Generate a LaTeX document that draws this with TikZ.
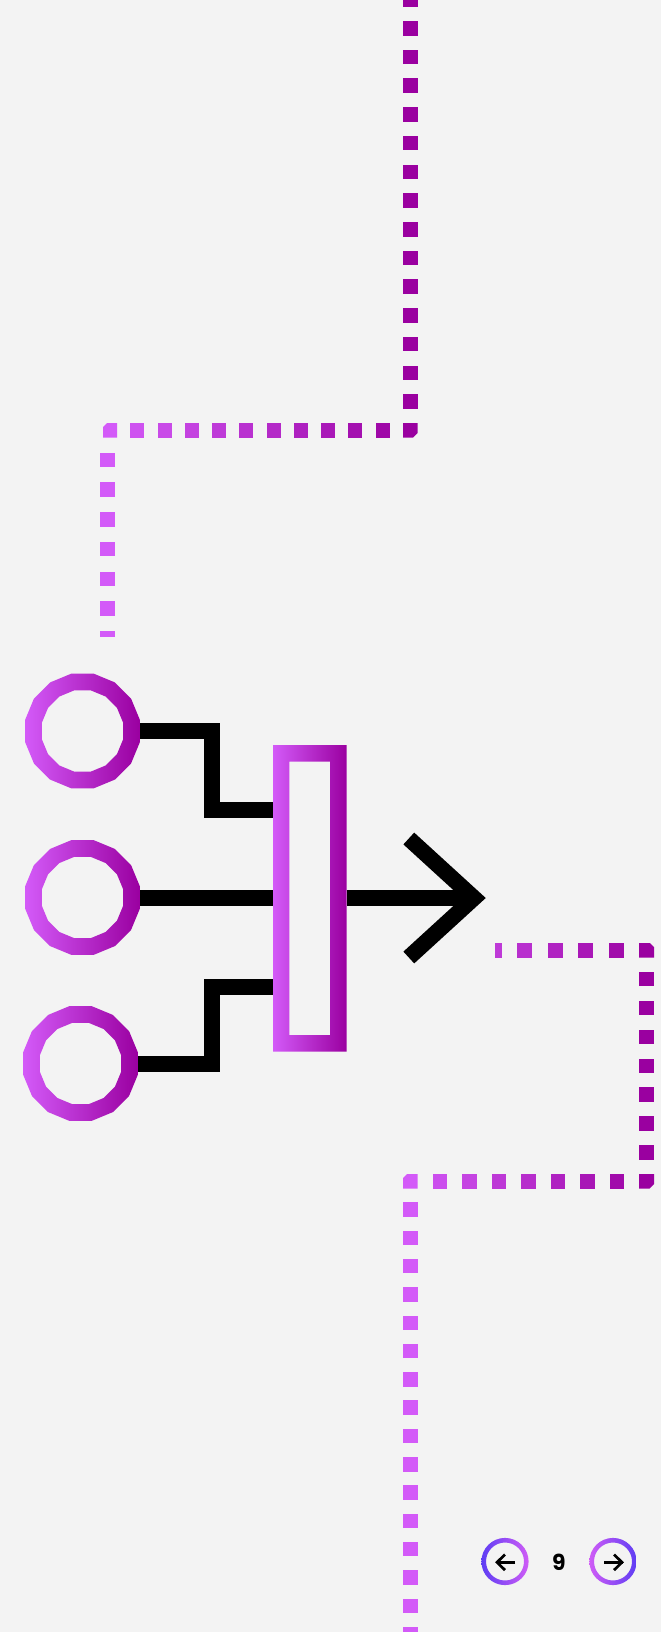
\documentclass[tikz,border=0pt]{standalone}
\usepackage{fontspec}
\usetikzlibrary{calc}
\setmainfont{Poppins}
\definecolor{bg}{HTML}{F3F3F3}
\definecolor{lt}{RGB}{211,90,248}
\definecolor{dk}{RGB}{154,0,160}
\definecolor{navblue}{HTML}{5E3DF4}
\definecolor{navpink}{HTML}{CF5CF6}
\tikzset{
  wire/.style={line width=16pt, black, line join=miter},
  navarrow/.style={line width=2.7pt, black, line join=miter},
  ringshade/.style={even odd rule, left color=lt, right color=dk},
}
\begin{document}
\begin{tikzpicture}[x=1pt,y=-1pt]
\useasboundingbox (0,0) rectangle (661,1632);
\clip (0,0) rectangle (661,1632);
\fill[bg] (0,0) rectangle (661,1632);

% ---------- dotted route, upper part ----------
% A: top vertical (dark)
\foreach \k in {1,...,15} { \fill[dk] (403,{423-28.71*\k}) rectangle +(14.5,14.5); }
% top-right corner
\fill[dk] (403,423) -- (417.5,423) -- (417.5,433) -- (413,437.5) -- (403,437.5) -- cycle;
% B: top horizontal (gradient)
\foreach \i in {1,...,10} {
  \pgfmathtruncatemacro\p{round(100*\i/11)}
  \fill[dk!\p!lt] ({103+27.27*\i},423) rectangle +(14,14.5);
}
% top-left corner
\fill[lt] (107,423) -- (117,423) -- (117,437.5) -- (103,437.5) -- (103,427) -- cycle;
% C: left vertical (light)
\foreach \k in {1,...,6} { \fill[lt] (100,{423+29.7*\k}) rectangle +(14.5,14.5); }
\fill[lt] (100,631) rectangle (114.5,637);

% ---------- dotted route, lower part ----------
% D: short horizontal at y=950
\fill[dk!37!lt] (495,943) rectangle (502,957.5);
\foreach \k in {1,...,4} {
  \pgfmathsetmacro\xo{639-30.5*\k}
  \pgfmathtruncatemacro\p{round((\xo+7-410)/237*100)}
  \fill[dk!\p!lt] (\xo,943) rectangle +(15,14.5);
}
\fill[dk] (639,943) -- (650,943) -- (654,947) -- (654,957.5) -- (639,957.5) -- cycle;
% E: right vertical (dark)
\foreach \k in {1,...,7} { \fill[dk] (639,{943+28.875*\k}) rectangle +(15,14.5); }
\fill[dk] (639,1174) -- (654,1174) -- (654,1184) -- (649.5,1188.5) -- (639,1188.5) -- cycle;
% F: lower horizontal (gradient)
\foreach \k in {1,...,7} {
  \pgfmathtruncatemacro\p{round(100*\k/8)}
  \fill[dk!\p!lt] ({403+29.5*\k},1174) rectangle +(14.5,14.5);
}
\fill[lt] (407,1174) -- (417.5,1174) -- (417.5,1188.5) -- (403,1188.5) -- (403,1178) -- cycle;
% G: bottom vertical (light)
\foreach \k in {1,...,16} { \fill[lt] (403,{1174+28.3*\k}) rectangle +(14.5,14.5); }

% ---------- input rings ----------
\coordinate (c1) at (82.5,731);
\coordinate (c2) at (82.5,897.5);
\coordinate (c3) at (80.5,1063.5);
\foreach \cx/\cy in {82.5/731, 82.5/897.5, 80.5/1063.5} {
  \shade[ringshade]
    plot[samples=17,domain=0:16,variable=\t] ({\cx+58.4*cos(11.25+22.5*\t)},{\cy+58.4*sin(11.25+22.5*\t)}) -- cycle
    plot[samples=17,domain=0:16,variable=\t] ({\cx+41.5*cos(11.25+22.5*\t)},{\cy+41.5*sin(11.25+22.5*\t)}) -- cycle;
}

% ---------- bar ----------
\coordinate (barNW) at (273,745);
\coordinate (barSE) at (346.7,1051.7);
\shade[ringshade] (barNW) rectangle (barSE) (289.3,761.7) rectangle (330,1035);

% ---------- wires ----------
\coordinate (c1e) at (140,731);
\coordinate (j1a) at (211.5,731);
\coordinate (j1b) at (211.5,810);
\coordinate (b1) at (273,810);
\coordinate (c2e) at (140,898);
\coordinate (b2) at (273,898);
\coordinate (c3e) at (138,1063.5);
\coordinate (j3a) at (211.5,1063.5);
\coordinate (j3b) at (211.5,986.5);
\coordinate (b3) at (273,986.5);
\coordinate (bout) at (346.7,898);
\coordinate (tip) at (473.9,898);
\coordinate (armU) at (408.8,838.5);
\coordinate (armL) at (408.8,957.5);

\draw[wire] (c1e) -- (j1a) -- (j1b) -- (b1);
\draw[wire] (c2e) -- (b2);
\draw[wire] (c3e) -- (j3a) -- (j3b) -- (b3);
\draw[wire] (bout) -- (tip);
\draw[wire] (armU) -- (tip) -- (armL);

% ---------- navigation ----------
\coordinate (navL) at (505,1561.5);
\coordinate (navR) at (613,1561.5);
\shade[even odd rule, left color=navblue, right color=navpink]
  (navL) circle[radius=23.6] (navL) circle[radius=19];
\shade[even odd rule, left color=navpink, right color=navblue]
  (navR) circle[radius=23.6] (navR) circle[radius=19];
\draw[navarrow] ($(navL)+(10,0.8)$) -- ($(navL)+(-8.5,0.8)$);
\draw[navarrow] ($(navL)+(0,-7)$) -- ($(navL)+(-8,0.8)$) -- ($(navL)+(0,8.6)$);
\draw[navarrow] ($(navR)+(-9,0.8)$) -- ($(navR)+(9.5,0.8)$);
\draw[navarrow] ($(navR)+(1,-7)$) -- ($(navR)+(9,0.8)$) -- ($(navR)+(1,8.6)$);
\node[font=\fontsize{22}{22}\selectfont\bfseries, inner sep=0pt] (page) at (559,1562.5) {9};
\end{tikzpicture}
\end{document}
